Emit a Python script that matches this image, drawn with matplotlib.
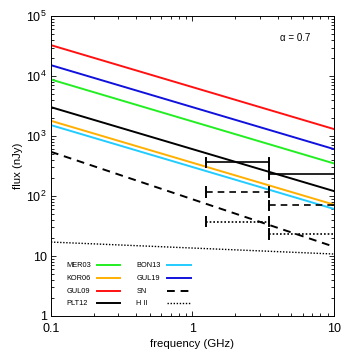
import matplotlib as mpl
mpl.use('Agg')
import matplotlib.pyplot as plt
import numpy as np
from matplotlib.ticker import FixedLocator, FixedFormatter, LogLocator, NullFormatter

plt.rcParams['font.family'] = ['Liberation Sans', 'DejaVu Sans']
plt.rcParams['mathtext.fontset'] = 'custom'
plt.rcParams['mathtext.rm'] = 'Liberation Sans'
plt.rcParams['mathtext.it'] = 'Liberation Sans:italic'

#Frequency range (GHz)
freq = [0.1, 10.0]

#Flux of each model at 0.1 GHz and 10 GHz (nJy)
mer03 = [8800, 350]
kor06 = [1800, 72]
gul09 = [32900, 1310]
plt12 = [3040, 121]
bon13 = [1525, 61]
gul19 = [15250, 607]
sn = [547, 14.3]
hii = [17.1, 10.8]

#Horizontal bars: [f_low, f_high, flux]
bars_solid = [[1.25, 3.5, 365], [3.5, 10.0, 233]]
bars_dashed = [[1.25, 3.5, 118], [3.5, 10.0, 70]]
bars_dotted = [[1.25, 3.5, 37.3], [3.5, 10.0, 23.3]]

yticks = [1, 10, 100, 1000, 1e4, 1e5]
yticklabels = ['1', '10', r'$10^2$', r'$10^3$', r'$10^4$', r'$10^5$']
xticks = [0.1, 1, 10]
xticklabels = ['0.1', '1', '10']

fig = plt.figure(figsize=(3.49, 3.49), dpi=100)
ax = fig.add_axes([0.146, 0.0946, 0.811, 0.859])

lw = 1.4
series = [
    ('MER03', mer03, '#22ee22', '-'),
    ('KOR06', kor06, '#ffb000', '-'),
    ('GUL09', gul09, '#ff1111', '-'),
    ('PLT12', plt12, 'black', '-'),
    ('BON13', bon13, '#22ccff', '-'),
    ('GUL19', gul19, '#1111dd', '-'),
    ('SN', sn, 'black', (0, (4, 3))),
    ('H II', hii, 'black', (0, (1, 1.2))),
]
for name, vals, col, ls in series:
    ax.plot(freq, vals, color=col, ls=ls, lw=lw if name != 'H II' else 1.0)

def hbar(ax, rows, ls):
    for lo, hi, val in rows:
        ax.plot([lo, hi], [val, val], color='black', ls=ls, lw=1.2, clip_on=False)
        for f in (lo, hi):
            if f < 10:
                ax.plot([f, f], [val / 1.2, val * 1.2], color='black', lw=1.4)

hbar(ax, bars_solid, '-')
hbar(ax, bars_dashed, (0, (4, 3)))
hbar(ax, bars_dotted, (0, (1, 1.2)))

ax.set_xscale('log')
ax.set_yscale('log')
ax.set_xlim(0.1, 10)
ax.set_ylim(1, 1e5)

ax.xaxis.set_major_locator(FixedLocator(xticks))
ax.xaxis.set_major_formatter(FixedFormatter(xticklabels))
ax.yaxis.set_major_locator(FixedLocator(yticks))
ax.yaxis.set_major_formatter(FixedFormatter(yticklabels))
ax.xaxis.set_minor_locator(LogLocator(subs=np.arange(2, 10)))
ax.yaxis.set_minor_locator(LogLocator(subs=np.arange(2, 10)))
ax.xaxis.set_minor_formatter(NullFormatter())
ax.yaxis.set_minor_formatter(NullFormatter())

ax.tick_params(which='both', direction='in', top=True, right=True, width=0.6, labelsize=9)
ax.tick_params(axis='x', which='major', length=3.6, pad=5)
ax.tick_params(axis='y', which='major', length=3.6, pad=3)
ax.tick_params(which='minor', length=2)
for s in ax.spines.values():
    s.set_linewidth(0.7)

ax.set_xlabel('frequency (GHz)', fontsize=8.2, labelpad=3)
ax.set_ylabel('flux (nJy)', fontsize=8.2, labelpad=2)

ax.text(0.81, 0.927, 'α = 0.7', transform=ax.transAxes, fontsize=7, va='center')

#Hand made legend, labels left, lines right
rows_y = [0.169, 0.126, 0.082, 0.042]
for i, (name, vals, col, ls) in enumerate(series):
    c = i // 4
    r = i % 4
    xt = [0.055, 0.302][c]
    xl = [[0.163, 0.245], [0.410, 0.494]][c]
    ax.text(xt, rows_y[r], name, transform=ax.transAxes, fontsize=5.3, va='center')
    ax.plot(xl, [rows_y[r]] * 2, transform=ax.transAxes, color=col, ls=ls,
            lw=lw if name != 'H II' else 1.0)

fig.savefig('out.png', dpi=100)
